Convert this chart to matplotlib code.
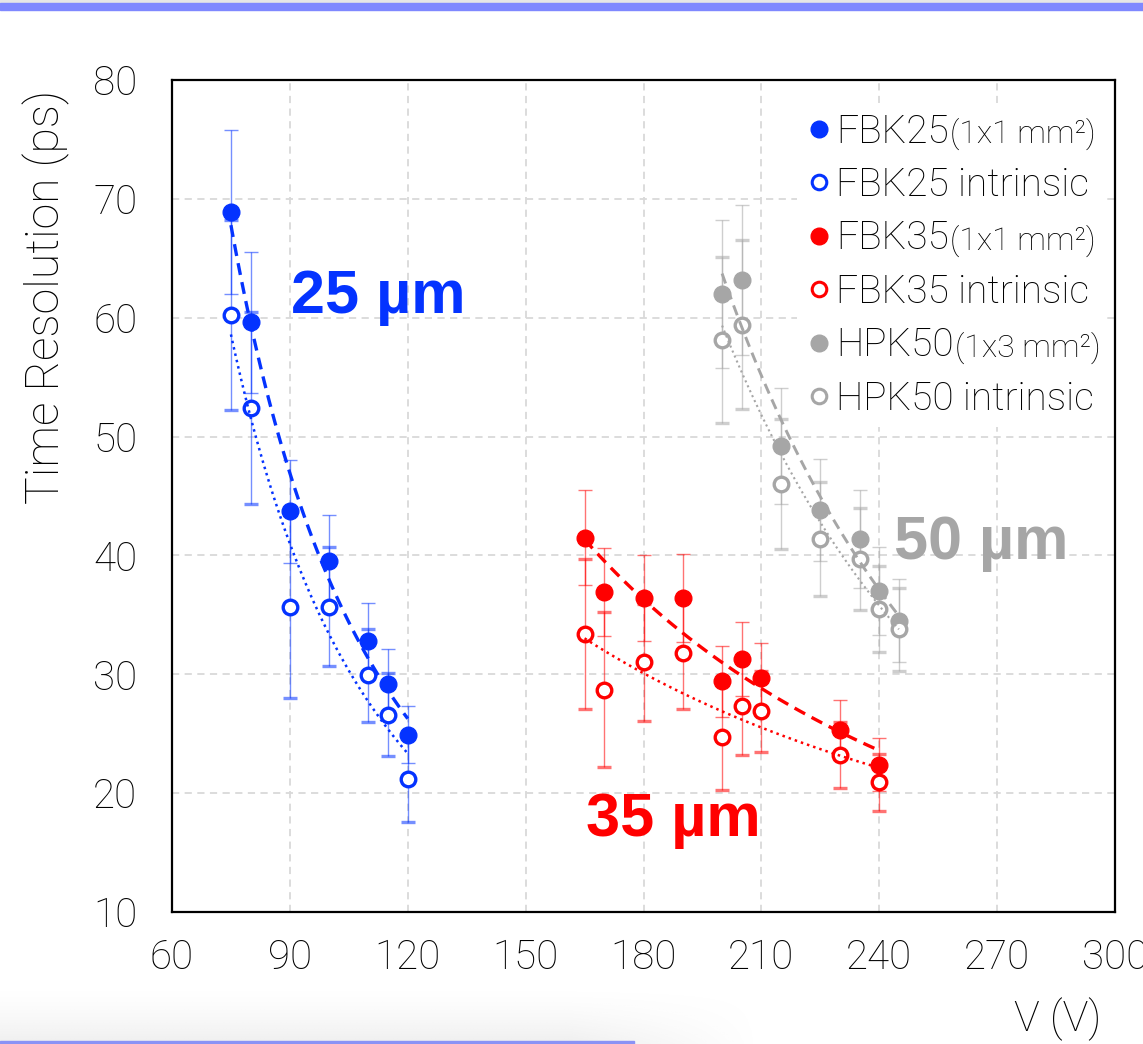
import numpy as np
import matplotlib
matplotlib.use('Agg')
from matplotlib import pyplot as plt
from matplotlib.lines import Line2D
from matplotlib.patches import Rectangle

# bias voltage (V) and time resolution (ps)
fbk25_v = [75, 80, 90, 100, 110, 115, 120]
fbk25 = [68.9, 59.6, 43.7, 39.5, 32.8, 29.2, 24.9]
fbk25_err = [6.9, 5.9, 4.3, 3.9, 3.2, 2.9, 2.4]
fbk25_int = [60.2, 52.4, 35.7, 35.7, 29.9, 26.6, 21.2]
fbk25_int_err = [8.0, 8.1, 7.7, 5.0, 3.9, 3.5, 3.6]

fbk35_v = [165, 170, 180, 190, 200, 205, 210, 230, 240]
fbk35 = [41.5, 36.9, 36.4, 36.4, 29.4, 31.3, 29.7, 25.3, 22.4]
fbk35_err = [4.0, 3.7, 3.6, 3.7, 3.0, 3.1, 2.9, 2.5, 2.2]
fbk35_int = [33.4, 28.7, 31.0, 31.8, 24.7, 27.3, 26.9, 23.2, 20.9]
fbk35_int_err = [6.3, 6.5, 4.9, 4.7, 4.4, 4.1, 3.4, 2.8, 2.4]

hpk50_v = [200, 205, 215, 225, 235, 240, 245]
hpk50 = [62.0, 63.2, 49.2, 43.8, 41.4, 37.0, 34.5]
hpk50_err = [6.2, 6.3, 4.9, 4.3, 4.1, 3.7, 3.5]
hpk50_int = [58.1, 59.4, 46.0, 41.4, 39.7, 35.5, 33.8]
hpk50_int_err = [7.0, 7.1, 5.5, 4.8, 4.3, 3.6, 3.5]

legend_names = ['FBK25', 'FBK25 intrinsic', 'FBK35', 'FBK35 intrinsic',
                'HPK50', 'HPK50 intrinsic']
legend_sizes = ['(1x1 mm²)', '', '(1x1 mm²)', '', '(1x3 mm²)', '']

BLUE = '#0433FF'
RED = '#FF0000'
GRAY = '#A6A6A6'

plt.rcParams['font.family'] = ['Roboto', 'DejaVu Sans']
plt.rcParams['font.weight'] = 'light'
plt.rcParams['axes.labelweight'] = 'light'

W, H = 1143, 1044
fig = plt.figure(figsize=(W / 100, H / 100), dpi=100)
ax = fig.add_axes([172 / W, 132 / H, 943 / W, 832 / H])


def power_fit(v, t):
    # excel style power trendline y = a * x^b
    b, a = np.polyfit(np.log(v), np.log(t), 1)
    xs = np.linspace(min(v), max(v), 100)
    return xs, np.exp(a) * xs ** b


series = [
    (fbk25_v, fbk25, fbk25_err, fbk25_int, fbk25_int_err, BLUE, 2.4, 1.8),
    (fbk35_v, fbk35, fbk35_err, fbk35_int, fbk35_int_err, RED, 2.4, 1.8),
    (hpk50_v, hpk50, hpk50_err, hpk50_int, hpk50_int_err, GRAY, 2.1, 1.5),
]

for v, full, ferr, intr, ierr, c, lw_dash, lw_dot in series:
    ax.errorbar(v, full, yerr=ferr, fmt='o', color=c, ms=12, mec=c,
                ecolor=c, elinewidth=1.0, capsize=4.7, capthick=1.0, zorder=3)
    ax.errorbar(v, intr, yerr=ierr, fmt='o', color=c, ms=10.5, mfc='white',
                mec=c, mew=2.4, ecolor=c, elinewidth=1.0, capsize=4.7,
                capthick=1.0, zorder=3)
    xs, ys = power_fit(v, full)
    ax.plot(xs, ys, color=c, lw=lw_dash, ls=(0, (3.6, 2.2)), zorder=4)
    xs, ys = power_fit(v, intr)
    ax.plot(xs, ys, color=c, lw=lw_dot, ls=(0, (1, 1.6)), zorder=4)

# lighter error bars like the slide
for coll in ax.collections:
    coll.set_alpha(0.55)
for ln in ax.lines:
    if ln.get_marker() == '_':
        ln.set_alpha(0.55)

ax.set_xlim(60, 300)
ax.set_ylim(10, 80)
ax.set_xticks(range(60, 301, 30))
ax.set_yticks(range(10, 81, 10))
ax.tick_params(length=0, labelsize=29)
ax.tick_params(axis='y', pad=25)
ax.tick_params(axis='x', pad=19)
ax.grid(True, color='#D9D9D9', lw=1.3, ls=(0, (4, 3)), zorder=0)
ax.set_axisbelow(True)
for s in ax.spines.values():
    s.set_linewidth(1.6)
    s.set_color('black')

ax.set_ylabel('Time Resolution (ps)', fontsize=33.5, loc='top')
ax.yaxis.set_label_coords(-0.108, 0.988)
ax.set_xlabel('V (V)', fontsize=31, loc='right')
ax.xaxis.set_label_coords(0.985, -0.103)

ax.text(112.4, 61.7, '25 µm', color=BLUE, fontsize=44, fontweight='bold',
        family='Liberation Sans', ha='center', va='center')
ax.text(187.5, 17.7, '35 µm', color=RED, fontsize=44, fontweight='bold',
        family='Liberation Sans', ha='center', va='center')
ax.text(266, 41.0, '50 µm', color=GRAY, fontsize=44, fontweight='bold',
        family='Liberation Sans', ha='center', va='center')

handles = []
for c in (BLUE, RED, GRAY):
    handles.append(Line2D([], [], ls='none', marker='o', ms=12, color=c))
    handles.append(Line2D([], [], ls='none', marker='o', ms=10.5, mfc='white',
                          mec=c, mew=2.2))
leg = ax.legend(handles, legend_names, loc='upper left',
                bbox_to_anchor=(0.663, 0.972), borderaxespad=0,
                fontsize=28, handlelength=0.6, handletextpad=0.15,
                labelspacing=0.41, borderpad=0.25, frameon=True,
                framealpha=1, facecolor='white', edgecolor='none', fancybox=False)
leg.set_zorder(5)

# small "(1x1 mm²)" parts after the names
fig.canvas.draw()
for txt, size in zip(leg.get_texts(), legend_sizes):
    if not size:
        continue
    bb = txt.get_window_extent()
    base = txt.get_transform().transform(txt.get_position())[1]
    fig.text((bb.x1 + 1) / W, base / H, size, fontsize=23, va='baseline',
             ha='left', zorder=6)

# slide decorations: top bar, bottom shadow and line
fig.patches.append(Rectangle((0, 1 - 3 / H), 1, 3 / H, transform=fig.transFigure,
                             color='#E6E6E6', zorder=0))
fig.patches.append(Rectangle((0, 1 - 10 / H), 1, 7 / H, transform=fig.transFigure,
                             color='#7F88FF', zorder=0))
sh = fig.add_axes([0, 0, 760 / W, 58 / H], zorder=-1)
gy = np.linspace(0, 1, 60)[:, None]
gx = np.linspace(0, 1, 200)[None, :]
shade = np.zeros((60, 200, 4))
shade[..., :3] = 0.6
shade[..., 3] = (gy ** 1.5) * 0.16 * np.clip((1 - gx) / 0.25, 0, 1)
sh.imshow(shade, aspect='auto', extent=(0, 1, 0, 1))
sh.axis('off')
fig.patches.append(Rectangle((0, 0), 634 / W, 3 / H, transform=fig.transFigure,
                             color='#8A92F5', zorder=1))

fig.savefig('out.png', dpi=100)
